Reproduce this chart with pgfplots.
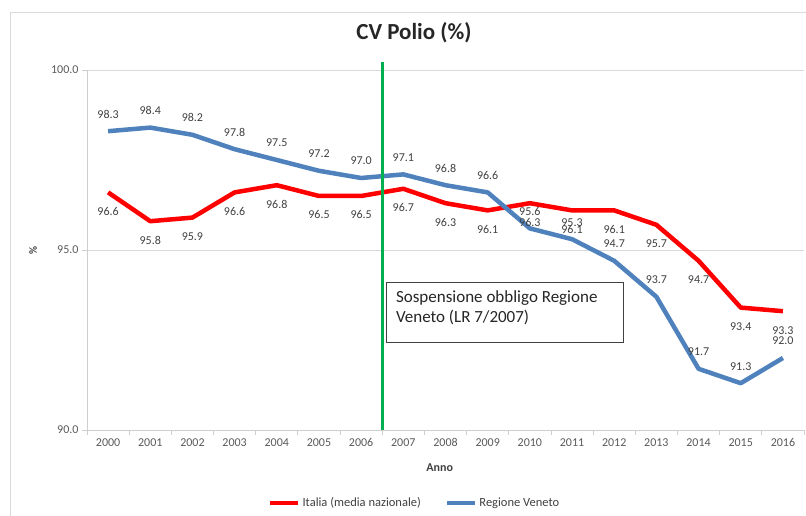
\documentclass[border=0pt]{standalone}
\usepackage{pgfplots}
\pgfplotsset{compat=1.18}
\usepackage{fontspec}
\setmainfont{Carlito}
\definecolor{itred}{HTML}{FF0000}
\definecolor{vblue}{HTML}{4F81BD}
\definecolor{vgreen}{HTML}{00B050}
\definecolor{txt}{HTML}{404040}
\definecolor{tck}{HTML}{595959}
\definecolor{grd}{HTML}{D9D9D9}
\begin{document}
\begin{tikzpicture}[x=1pt,y=1pt]
\useasboundingbox (0,0) rectangle (806,516);
\draw[grd, line width=1pt] (10,0) -- (10,503) -- (806,503);
\begin{axis}[
  at={(87pt,86pt)}, anchor=south west,
  scale only axis, width=717pt, height=360pt,
  xmin=-0.5, xmax=16.5, ymin=90, ymax=100,
  clip=false,
  axis x line*=bottom, axis y line*=left,
  axis line style={draw=grd!80!black!60, line width=0.8pt},
  xtick={0,...,16},
  xticklabels={2000,2001,2002,2003,2004,2005,2006,2007,2008,2009,2010,2011,2012,2013,2014,2015,2016},
  minor xtick={-0.5,0.5,...,16.5},
  x tick style={draw=none},
  minor x tick style={draw=grd!80!black!60, line width=0.8pt},
  tick align=outside,
  minor tick length=5pt,
  major tick length=5pt,
  y tick style={draw=grd!80!black!60, line width=0.8pt},
  ytick={90,95,100},
  ymajorgrids,
  grid style={grd, line width=0.8pt},
  tick label style={font=\fontsize{12}{14}\selectfont, text=tck},
  /pgf/number format/.cd, fixed, fixed zerofill, precision=1, assume math mode=true, /pgfplots/.cd,
  xlabel={\textbf{Anno}},
  xlabel style={at={(axis description cs:0.492,0)}, yshift=-38pt, anchor=center, font=\fontsize{12}{14}\selectfont, text=txt},
  ylabel={\textbf{\%}},
  ylabel style={at={(axis description cs:-0.0753,0.5)}, anchor=center, font=\fontsize{11}{13}\selectfont, text=txt},
  title={CV Polio (\%)},
  title style={at={(axis description cs:0.456,1.0875)}, anchor=center, font=\bfseries\fontsize{23}{27}\selectfont, text=black!85},
  legend style={at={(axis description cs:0.457,-0.203)}, anchor=center, draw=none, fill=none,
    legend columns=2, font=\fontsize{12.5}{15}\selectfont, text=txt,
    /tikz/every even column/.append style={column sep=22pt},
    inner sep=0pt},
  legend cell align=left,
  legend image code/.code={\draw[#1, line width=4.5pt] (0pt,0pt) -- (28pt,0pt);},
]
\addplot[itred, line width=4.5pt, line join=round,
  nodes near coords,
  every node near coord/.append style={anchor=center, yshift=-19pt, text=txt, font=\fontsize{12}{14}\selectfont}]
  coordinates {(0,96.6) (1,95.8) (2,95.9) (3,96.6) (4,96.8) (5,96.5) (6,96.5) (7,96.7) (8,96.3) (9,96.1) (10,96.3) (11,96.1) (12,96.1) (13,95.7) (14,94.7) (15,93.4) (16,93.3)};
\addlegendentry{Italia (media nazionale)}
\addplot[vblue, line width=4.5pt, line join=round,
  nodes near coords,
  every node near coord/.append style={anchor=center, yshift=17pt, text=txt, font=\fontsize{12}{14}\selectfont}]
  coordinates {(0,98.3) (1,98.4) (2,98.2) (3,97.8) (4,97.5) (5,97.2) (6,97.0) (7,97.1) (8,96.8) (9,96.6) (10,95.6) (11,95.3) (12,94.7) (13,93.7) (14,91.7) (15,91.3) (16,92.0)};
\addlegendentry{Regione Veneto}
\draw[vgreen, line width=3pt] (axis cs:6.5,90) -- (axis cs:6.5,100.22);
\draw[draw=txt, line width=0.8pt, fill=white] (axis cs:6.61,94.11) rectangle (axis cs:12.21,92.44);
\node[anchor=north west, align=left, inner xsep=9pt, inner ysep=8pt, font=\fontsize{17}{20.5}\selectfont, text=black!85] at (axis cs:6.61,94.11) {Sospensione obbligo Regione\\Veneto (LR 7/2007)};
\end{axis}
\end{tikzpicture}
\end{document}
